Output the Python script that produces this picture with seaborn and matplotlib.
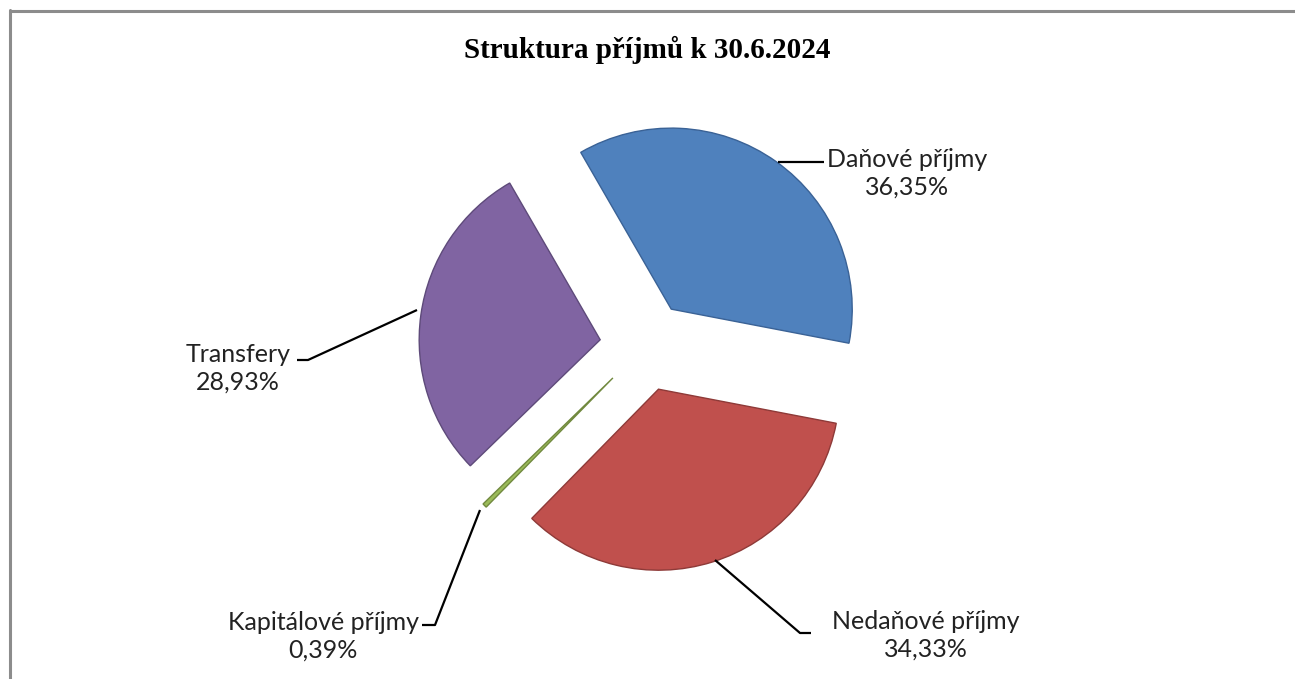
import matplotlib
matplotlib.use("Agg")
import matplotlib.pyplot as plt
import seaborn as sns

# data
categories = ["Daňové příjmy", "Nedaňové příjmy", "Kapitálové příjmy", "Transfery"]
shares = [36.35, 34.33, 0.39, 28.93]
labels_pct = ["36,35%", "34,33%", "0,39%", "28,93%"]

sns.set_theme(style="white")
plt.rcParams["font.family"] = ["Lato", "DejaVu Sans"]

colors = ["#4F81BD", "#C0504D", "#9BBB59", "#8064A2"]
edges = ["#3A6296", "#8E3A38", "#71893F", "#5E4A7A"]

W, H = 1295, 679
R = 181.0            # pie radius in pixels
cx, cy = 645, 346    # pie centre in pixels (from top)

fig = plt.figure(figsize=(W / 100, H / 100), dpi=100)
ax = fig.add_axes([0, 0, 1, 1])

wedges, _ = ax.pie(shares, colors=colors, startangle=120, counterclock=False,
                   explode=[0.25] * 4, radius=1.0,
                   wedgeprops=dict(linewidth=1.0))
for w, ec in zip(wedges, edges):
    w.set_edgecolor(ec)

# pixel -> data coordinates
def px(x, y):
    return (x - cx) / R, (cy - y) / R

ax.set_xlim(-cx / R, (W - cx) / R)
ax.set_ylim(-(H - cy) / R, cy / R)
ax.set_aspect("equal", adjustable="datalim")
ax.axis("off")

# leader lines (pixel points)
leaders = [
    [(778, 162), (824, 162)],
    [(715, 560), (800, 633), (811, 633)],
    [(480, 510), (435, 625), (422, 625)],
    [(417, 310), (308, 360), (297, 360)],
]
for pts in leaders:
    xs, ys = zip(*[px(x, y) for x, y in pts])
    ax.plot(xs, ys, color="black", lw=1.6, solid_capstyle="butt")

# label positions (centre of the two-line block)
label_pos = [(907, 173), (926, 635), (323, 636), (238, 368)]
for cat, pct, (x, y) in zip(categories, labels_pct, label_pos):
    tx, ty = px(x, y)
    ax.text(tx, ty, f"{cat}\n{pct}", ha="center", va="center",
            fontsize=18, color="#222222", linespacing=1.25)

fig.text(0.5, 1 - 50 / H, "Struktura příjmů k 30.6.2024", ha="center", va="center",
         fontsize=21, fontweight="bold", family="Liberation Serif", color="black")

# chart area border (top and left visible)
fig.add_artist(plt.Line2D([9.5 / W, 9.5 / W], [0, 1 - 9.5 / H],
                          color="#8c8c8c", lw=2.2, transform=fig.transFigure))
fig.add_artist(plt.Line2D([9.5 / W, 1], [1 - 10.5 / H, 1 - 10.5 / H],
                          color="#8c8c8c", lw=2.2, transform=fig.transFigure))

fig.savefig("out.png", dpi=100, facecolor="white")
